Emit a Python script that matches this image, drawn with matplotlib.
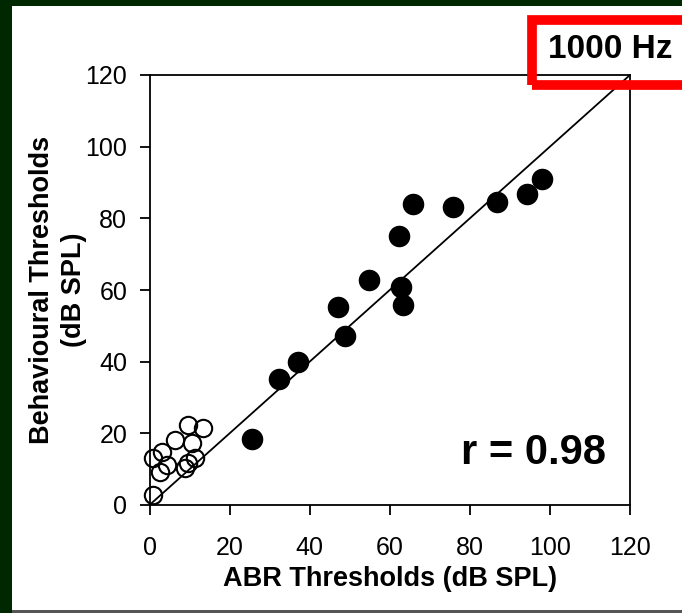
import matplotlib
matplotlib.use('Agg')
import matplotlib.pyplot as plt
from matplotlib.patches import Rectangle

plt.rcParams['font.family'] = ['Liberation Sans', 'DejaVu Sans']

# ABR vs behavioural thresholds, 1000 Hz
open_x = [0.8, 0.8, 3.1, 4.3, 2.7, 6.4, 9.6, 13.4, 10.6, 11.4, 9.6, 8.8]
open_y = [2.8, 13.1, 14.9, 11.2, 9.3, 18.2, 22.4, 21.5, 17.3, 13.1, 11.7, 10.3]

filled_x = [25.5, 32.4, 37.1, 48.8, 47.1, 54.8, 62.3, 62.7, 63.3, 65.8, 75.8, 86.9, 94.2, 97.9]
filled_y = [18.4, 35.2, 39.9, 47.1, 55.2, 62.7, 75.0, 60.8, 55.7, 83.9, 83.3, 84.6, 86.7, 90.9]

ticks = [0, 20, 40, 60, 80, 100, 120]
r_text = 'r = 0.98'
freq_text = '1000 Hz'

W, H = 682, 613
fig = plt.figure(figsize=(W / 100, H / 100), dpi=100, facecolor='#002800')

# white slide area with thin grey bottom edge
fig.patches.append(Rectangle((12 / W, 0), 1 - 12 / W, 607 / H, transform=fig.transFigure,
                             facecolor='white', edgecolor='none', zorder=-10))
fig.patches.append(Rectangle((12 / W, 0), 1 - 12 / W, 3 / H, transform=fig.transFigure,
                             facecolor='#555555', edgecolor='none', zorder=-9))

ax = fig.add_axes([149.5 / W, (H - 505) / H, (630 - 149.5) / W, (505 - 75) / H])
ax.set_facecolor('white')

ax.plot([0, 120], [0, 120], color='black', lw=1.3, zorder=1)
ax.plot(open_x, open_y, 'o', ms=12.5, mfc='none', mec='black', mew=1.5, clip_on=False, zorder=2)
ax.plot(filled_x, filled_y, 'o', ms=14.5, mfc='black', mec='black', clip_on=False, zorder=3)

ax.set_xlim(0, 120)
ax.set_ylim(0, 120)
ax.set_xticks(ticks)
ax.set_yticks(ticks)
ax.tick_params(direction='out', length=7, width=1.3, labelsize=18)
ax.tick_params(axis='x', pad=15)
ax.tick_params(axis='y', pad=9)
for s in ax.spines.values():
    s.set_linewidth(1.3)

ax.set_xlabel('ABR Thresholds (dB SPL)', fontsize=19.5, fontweight='bold', labelpad=5)
ax.set_ylabel('Behavioural Thresholds\n(dB SPL)', fontsize=19.5, fontweight='bold', labelpad=-1,
              linespacing=1.3)

ax.text(0.80, 0.12, r_text, transform=ax.transAxes, fontsize=30, fontweight='bold',
        ha='center', va='center')

# red highlight box (runs off the right edge)
fig.patches.append(Rectangle((532 / W, (H - 84.5) / H), 200 / W, 64.5 / H, transform=fig.transFigure,
                             facecolor='none', edgecolor='#ff0000', lw=7, joinstyle='miter',
                             zorder=5))
fig.text(610 / W, (H - 50) / H, freq_text, fontsize=24, fontweight='bold', ha='center', va='center')

fig.savefig('out.png', dpi=100, facecolor=fig.get_facecolor())
